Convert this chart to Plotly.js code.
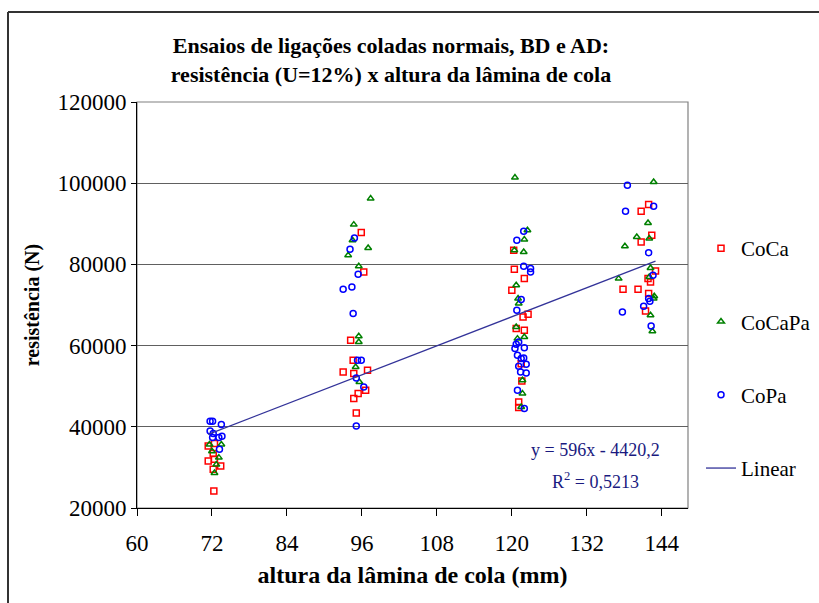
<!DOCTYPE html>
<html>
<head>
<meta charset="utf-8">
<script src="https://cdn.plot.ly/plotly-3.0.1.min.js"></script>
<style>html,body{margin:0;padding:0;background:#fff;}#chart{width:819px;height:603px;}</style>
</head>
<body>
<div id="chart"></div>
<script>
// CoCa (red squares)
const cocaX = [71.4,72.4,72.2,71.4,72.4,73.4,72.2,72.3,
  95.9,96.3,94.2,94.6,93.0,94.7,96.9,96.6,95.4,94.7,95.1,
  120.3,120.4,122.0,120.0,121.8,122.6,120.7,122.0,121.5,121.6,121.1,121.1,
  141.9,140.7,142.4,140.7,143.0,141.8,142.2,137.8,140.2,141.9,141.4];
const cocaY = [35270,35860,33400,31580,32000,30340,29530,24190,
  87830,78130,61300,56380,53500,53100,53920,49000,48180,46950,43400,
  83470,78800,76500,73620,67050,67700,64190,63770,55560,51290,46110,44730,
  94730,93080,87170,85520,78380,76500,75670,73870,73870,72810,68520];
// CoCaPa (green triangles)
const cocapaX = [71.6,73.5,72.0,73.1,72.7,72.4,
  97.4,94.7,94.5,97.0,93.8,95.5,95.5,95.5,95.0,95.6,
  120.5,122.5,122.0,120.4,121.9,120.7,121.0,121.1,120.7,122.0,120.9,121.7,121.7,121.5,
  142.7,141.8,140.0,142.0,138.1,142.2,142.0,137.1,142.8,142.7,142.2,142.5];
const cocapaY = [35620,35620,33970,32410,30690,28620,
  96210,89800,85940,84040,82240,79530,62290,60890,54730,51030,
  101380,88400,86110,83470,83060,74850,71580,70350,64580,62120,61720,51450,48180,44880,
  100300,90200,86750,86360,84460,79110,76900,76500,72140,71580,67460,63520];
// CoPa (blue circles)
const copaX = [71.7,72.1,73.5,71.7,72.2,72.1,73.1,73.6,73.2,
  94.8,94.1,95.4,93.0,94.4,94.6,95.3,95.9,95.1,96.3,95.1,
  121.9,123.0,123.0,121.9,120.8,121.5,120.8,121.1,120.7,120.5,122.0,120.9,121.5,121.9,122.3,121.1,121.4,122.3,120.9,122.0,
  138.5,138.2,142.7,141.9,142.6,141.9,142.1,141.1,137.7,142.3];
const copaY = [41350,41350,40540,38970,38320,37340,37340,37660,34460,
  86500,83720,77560,73870,74430,67880,56380,56380,52020,49800,40200,
  88150,78960,78130,79530,85940,71330,68690,60890,60320,59260,59500,57610,56800,56950,55390,54900,53500,53250,48990,44480,
  99480,93080,94310,82900,77310,71580,70910,69680,68280,64830];
// Linear trend shown on chart
const slope = 596;
const intercept = -4420.2;
const eqText = "y = 596x - 4420,2";
const r2Text = "R<sup>2</sup> = 0,5213";
const xTicks = [60,72,84,96,108,120,132,144];
const yTicks = [20000,40000,60000,80000,100000,120000];

const allX = cocaX.concat(cocapaX, copaX);
const xMin = Math.min(...allX), xMax = Math.max(...allX);
const lineX = [xMin, xMax];
const lineY = lineX.map(v => slope * v + intercept);

const F = "Liberation Serif, Times New Roman, serif";
const mk = (sym, col) => ({symbol: sym, size: 6, color: col, line: {color: col, width: 1.5}});

const traces = [
  {x: cocaX, y: cocaY, type: 'scatter', mode: 'markers', name: 'CoCa', legendgroup: 'a', marker: mk('square-open', '#ff0000')},
  {x: cocapaX, y: cocapaY, type: 'scatter', mode: 'markers', name: 'CoCaPa', legendgroup: 'b', marker: mk('triangle-up-open', '#008000')},
  {x: copaX, y: copaY, type: 'scatter', mode: 'markers', name: 'CoPa', legendgroup: 'c', marker: mk('circle-open', '#0000ff')},
  {x: lineX, y: lineY, type: 'scatter', mode: 'lines', name: 'Linear', legendgroup: 'd', line: {color: '#333399', width: 1.3}}
];

const layout = {
  width: 819, height: 603,
  margin: {l: 137, r: 131, t: 102, b: 95, autoexpand: false},
  paper_bgcolor: '#fff', plot_bgcolor: '#fff',
  font: {family: F, color: '#000', size: 20},
  title: {text: 'Ensaios de ligações coladas normais, BD e AD:<br>resistência (U=12%) x altura da lâmina de cola',
    font: {family: F, size: 22, color: '#000', weight: 'bold'}, x: 391/819, xanchor: 'center', y: 1 - 53/603, yanchor: 'middle'},
  xaxis: {range: [60, 148.2], tickvals: xTicks, ticktext: xTicks.map(String), ticks: 'outside', ticklen: 7, tickcolor: '#000',
    showline: true, linecolor: '#000', linewidth: 1, showgrid: false, zeroline: false, ticklabelstandoff: 7,
    tickfont: {family: F, size: 23}, title: {text: 'altura da lâmina de cola (mm)', font: {family: F, size: 24, weight: 'bold'}, standoff: 11}},
  yaxis: {range: [20000, 120000], tickvals: yTicks, ticktext: yTicks.map(String), ticks: 'outside', ticklen: 5, tickcolor: '#000',
    showline: true, linecolor: '#000', linewidth: 1, showgrid: true, gridcolor: '#606060', gridwidth: 1, zeroline: false,
    tickfont: {family: F, size: 23}, title: {text: 'resistência (N)', font: {family: F, size: 20, weight: 'bold'}, standoff: 12}},
  showlegend: true,
  legend: {x: (701 - 137) / 551, xanchor: 'left', y: (508 - 228) / 406, yanchor: 'top',
    font: {family: F, size: 21}, tracegroupgap: 43, bgcolor: 'rgba(0,0,0,0)', itemwidth: 30},
  shapes: [
    {type: 'rect', xref: 'paper', yref: 'paper', x0: 0, x1: 1, y0: 0, y1: 1, line: {color: '#808080', width: 1.2}, layer: 'below'},
    {type: 'line', xref: 'paper', yref: 'paper', x0: (8 - 137) / 551, x1: (8 - 137) / 551, y0: (508 - 12) / 406, y1: (508 - 610) / 406, line: {color: '#333', width: 2}},
    {type: 'line', xref: 'paper', yref: 'paper', x0: (8 - 137) / 551, x1: (830 - 137) / 551, y0: (508 - 12) / 406, y1: (508 - 12) / 406, line: {color: '#333', width: 2}}
  ],
  annotations: [
    {text: eqText, xref: 'paper', yref: 'paper', x: (595 - 137) / 551, y: (508 - 450) / 406, showarrow: false, xanchor: 'center', yanchor: 'middle',
      font: {family: F, size: 18, color: '#1a1a80'}},
    {text: r2Text, xref: 'paper', yref: 'paper', x: (595 - 137) / 551, y: (508 - 480) / 406, showarrow: false, xanchor: 'center', yanchor: 'middle',
      font: {family: F, size: 18, color: '#1a1a80'}}
  ]
};

Plotly.newPlot('chart', traces, layout, {displayModeBar: false, responsive: false});
</script>
</body>
</html>
